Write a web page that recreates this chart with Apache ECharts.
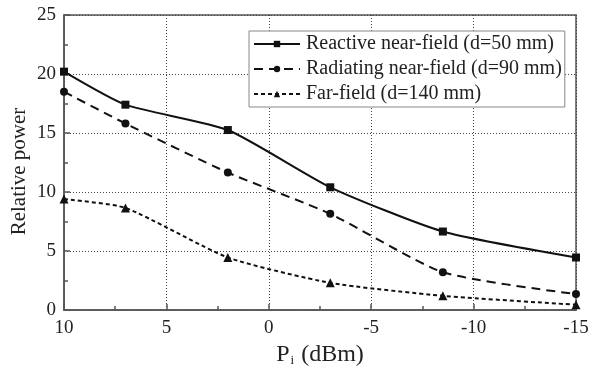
<!DOCTYPE html>
<html>
<head>
<meta charset="utf-8">
<script src="https://cdn.jsdelivr.net/npm/echarts@6/dist/echarts.min.js"></script>
<style>
  html, body { margin: 0; padding: 0; background: #fff; }
  #chart { width: 590px; height: 369px; }
</style>
</head>
<body>
<div id="chart"></div>
<script>
// Input power levels (dBm) at which the relative power was measured
const inputPower = [10, 7, 2, -3, -8.5, -15];

// Relative power for each measurement distance
const reactiveNear = [20.2, 17.4, 15.25, 10.4, 6.65, 4.45];
const radiatingNear = [18.5, 15.8, 11.65, 8.15, 3.2, 1.35];
const farField = [9.4, 8.65, 4.45, 2.3, 1.2, 0.45];

const seriesNames = [
  'Reactive near-field (d=50 mm)',
  'Radiating near-field (d=90 mm)',
  'Far-field (d=140 mm)'
];

const serif = 'Liberation Serif, Times New Roman, serif';
const tickFont = 19;

function pairs(ys) {
  return inputPower.map((x, i) => [x, ys[i]]);
}

const chart = echarts.init(document.getElementById('chart'), null, { renderer: 'canvas' });

const axisCommon = {
  axisLine: { show: true, onZero: false, lineStyle: { color: '#555', width: 1.5 } },
  axisTick: { show: true, inside: true, length: 6, lineStyle: { color: '#555', width: 1.5 } },
  minorTick: { show: true, splitNumber: 2, length: 4, lineStyle: { color: '#555', width: 1.5 } },
  splitLine: { show: true, lineStyle: { color: '#444', width: 1, type: [1, 2] } }
};

chart.setOption({
  animation: false,
  backgroundColor: '#fff',
  grid: {
    left: 64, right: 14, top: 15, bottom: 59,
    containLabel: false,
    outerBoundsMode: 'none',
    show: true, borderColor: '#555', borderWidth: 1.5
  },
  legend: {
    orient: 'vertical',
    left: 249, top: 31,
    padding: [3, 3, 3, 4],
    itemGap: 5,
    itemWidth: 46, itemHeight: 8,
    borderColor: '#888', borderWidth: 1,
    backgroundColor: '#fff',
    textStyle: { fontFamily: serif, fontSize: 20, color: '#222', padding: [0, 0, 0, 1] },
    data: seriesNames
  },
  xAxis: Object.assign({}, axisCommon, {
    type: 'value',
    inverse: true,
    min: -15, max: 10, interval: 5,
    name: '{a|P}{b|i}{a| (dBm)}',
    nameLocation: 'middle',
    nameGap: 30,
    nameTextStyle: {
      rich: {
        a: { fontFamily: serif, fontSize: 24, color: '#222' },
        b: { fontFamily: serif, fontSize: 13, color: '#222', verticalAlign: 'bottom', padding: [11, 1, 0, 1] }
      }
    },
    axisLabel: { color: '#222', fontFamily: serif, fontSize: tickFont, margin: 9 }
  }),
  yAxis: Object.assign({}, axisCommon, {
    type: 'value',
    min: 0, max: 25, interval: 5,
    name: 'Relative power',
    nameLocation: 'middle',
    nameMoveOverlap: false,
    nameGap: 34,
    nameTextStyle: { fontFamily: serif, fontSize: 21, color: '#222', padding: [0, 18, 0, 0] },
    axisLabel: { color: '#222', fontFamily: serif, fontSize: tickFont, margin: 8 }
  }),
  series: [
    {
      name: seriesNames[0],
      type: 'line',
      data: pairs(reactiveNear),
      smooth: 0.2,
      symbol: 'rect', symbolSize: 8,
      itemStyle: { color: '#111' },
      lineStyle: { color: '#111', width: 2, type: 'solid' }
    },
    {
      name: seriesNames[1],
      type: 'line',
      data: pairs(radiatingNear),
      smooth: 0.2,
      symbol: 'circle', symbolSize: 8,
      itemStyle: { color: '#111' },
      lineStyle: { color: '#111', width: 2, type: [9, 6] }
    },
    {
      name: seriesNames[2],
      type: 'line',
      data: pairs(farField),
      smooth: 0.2,
      symbol: 'triangle', symbolSize: 9,
      itemStyle: { color: '#111' },
      lineStyle: { color: '#111', width: 2, type: [4, 3] }
    }
  ]
});
</script>
</body>
</html>
